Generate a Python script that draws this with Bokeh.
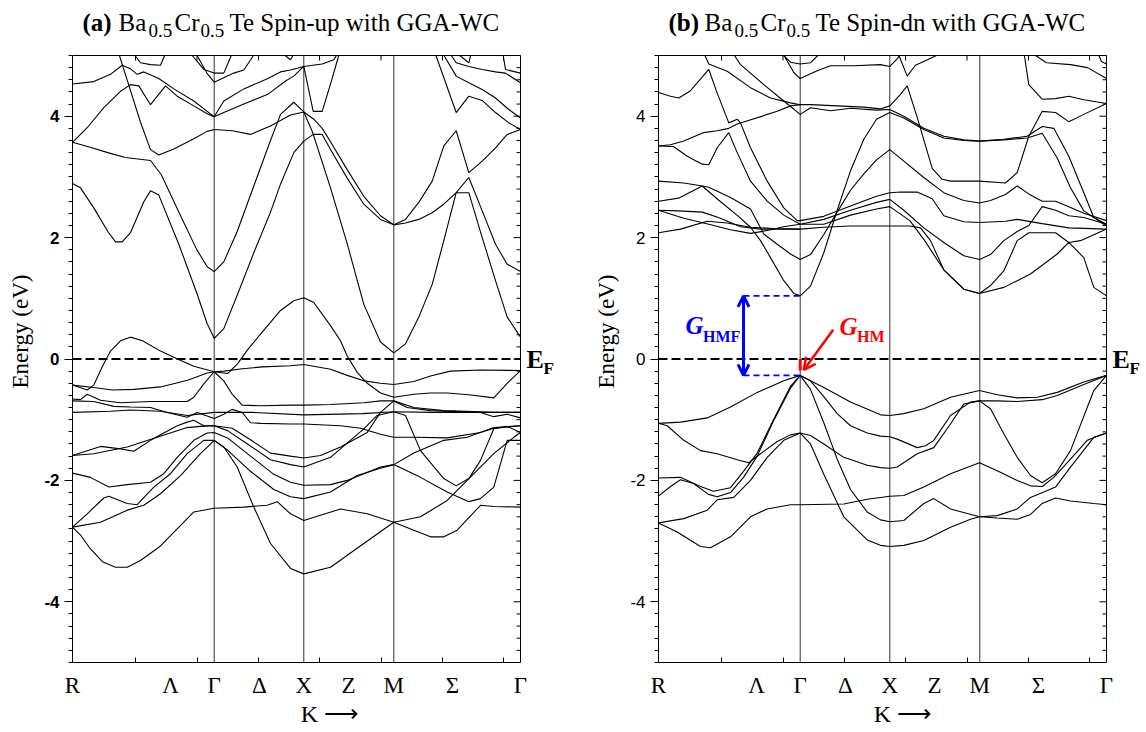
import numpy as np
from bokeh.plotting import figure
from bokeh.layouts import row
from bokeh.models import (Range1d, FixedTicker, Label, Arrow, OpenHead, LinearAxis)
from bokeh.embed import file_html
from bokeh.resources import INLINE

# ---------------- k-path (path length units) ----------------
K_GAMMA, K_X, K_M, K_END = 1.417, 2.313, 3.213, 4.48
SYM_K = [0.0, 0.98, 1.417, 1.87, 2.313, 2.76, 3.213, 3.80, 4.48]
SYM_LABELS = ["R", "Λ", "Γ", "Δ", "X", "Z", "M", "Σ", "Γ"]
VLINES_K = [K_GAMMA, K_X, K_M]
MINOR_K = [0.63, 1.245, 1.86, 2.47, 3.085, 3.70, 4.31]
Y_MAJOR = [-4, -2, 0, 2, 4]
Y_MINOR = [round(v, 1) for v in np.arange(-5.0, 5.01, 0.2)]
E_MIN, E_MAX = -5.0, 5.0

# ---------------- (a) spin-up bands: (k, E[eV]) ----------------
UP01 = ([0.45,0.58,0.68,0.78,0.863,1.013,1.213,1.347,1.417, 1.6,1.78,1.98,2.18,2.313, 2.413,2.497,2.58,2.747,2.913,3.08,3.213, 3.33,3.463,3.597,3.713,3.837,3.963,4.097,4.23,4.347,4.48],
        [5.1,4.42,3.90,3.45,3.36,3.46,3.63,3.75,3.78, 3.76,3.70,3.84,4.02,4.07, 3.95,3.80,3.58,3.12,2.68,2.36,2.21, 2.24,2.30,2.41,2.55,2.74,2.99,2.44,1.89,1.56,1.44])
UP02 = ([0,0.177,0.353,0.53,0.78,0.887,1.063,1.24,1.347,1.417, 1.513,1.647,1.813,1.98,2.08,2.213,2.313, 2.40,2.58,2.747,2.913,3.08,3.213, 3.33,3.463,3.597,3.713,3.837,3.963,4.097,4.23,4.347,4.48],
        [3.57,3.49,3.40,3.32,3.27,3.04,2.42,1.81,1.52,1.44, 1.60,2.10,2.85,3.60,4.03,4.23,4.07, 3.74,2.82,1.90,0.90,0.28,0.10, 0.25,0.69,1.23,1.95,2.74,2.74,2.00,1.29,0.69,0.36])
UP03 = ([0,0.08,0.213,0.353,0.43,0.497,0.58,0.713,0.78,0.863,1.063,1.24,1.347,1.417, 1.513,1.647,1.813,1.98,2.08,2.213,2.313,2.407,2.497, 2.58,2.747,2.913,3.08,3.213, 3.33,3.463,3.597,3.713,3.837,3.963,4.097,4.23,4.347,4.48],
        [2.89,2.82,2.49,2.10,1.93,1.93,2.08,2.59,2.77,2.70,1.89,1.10,0.58,0.34, 0.50,1.05,1.75,2.42,2.88,3.40,3.59,3.70,3.70, 3.45,2.98,2.55,2.30,2.21, 2.30,2.58,2.93,3.51,3.76,3.07,3.26,3.48,3.70,3.78])
UP04 = ([0,0.147,0.313,0.48,0.58,0.663,0.78,0.93,1.047,1.213,1.347,1.417, 1.513,1.713,1.953,2.13,2.213,2.313, 2.407,2.497,2.58,2.68],
        [3.57,3.81,4.14,4.41,4.52,4.50,4.19,4.50,4.33,4.17,4.04,3.99, 4.06,4.20,4.36,4.58,4.66,4.82, 4.08,4.08,4.53,5.1])
UP05 = ([0,0.213,0.38,0.497,0.58,0.647,0.713,0.863,1.013,1.213,1.347,1.417, 1.513,1.713,1.953,2.08,2.18,2.313, 2.497,2.613,2.68],
        [4.53,4.57,4.69,4.84,4.78,4.69,4.73,4.62,4.45,4.25,4.08,3.99, 4.25,4.45,4.62,4.73,4.76,4.82, 4.86,4.93,5.1])
UP06 = ([1.147,1.313,1.417,1.513,1.613], [5.1,4.77,4.71,4.71,5.1])
UP07 = ([1.213,1.347,1.417,1.613,1.713,1.85], [5.1,4.70,4.56,4.71,4.76,5.1])
UP08 = ([0.58,0.68,0.78,0.88,0.947], [5.1,4.88,4.85,4.84,5.1])
UP09 = ([2.05,2.18,2.24], [5.1,4.93,5.1])
UP10 = ([3.613,3.837,3.963,4.097,4.23,4.363,4.48], [5.1,4.06,4.33,4.26,4.06,3.89,3.78])
UP11 = ([3.68,3.837,3.963,4.097,4.23,4.363,4.48], [5.1,4.66,4.55,4.44,4.30,4.11,3.97])
UP12 = ([3.747,3.837,3.963,4.097,4.23,4.33,4.48], [5.1,4.88,4.82,4.77,4.73,4.71,4.55])
UP13 = ([3.797,3.963,3.997], [5.1,4.88,5.1])
UP14 = ([4.297,4.33,4.48], [5.1,4.77,4.71])
UP15 = ([0,0.147,0.213,0.30,0.38,0.48,0.58,0.70,0.88,1.05,1.213,1.417,1.55,1.65,1.75,1.88,2.08,2.213,2.313,2.413,2.58,2.68,2.747,2.847,2.947,3.08,3.213,3.413,3.58,3.747,3.963,4.213,4.347,4.48],
        [-0.43,-0.51,-0.43,-0.12,0.13,0.30,0.36,0.30,0.13,0.0,-0.12,-0.21,-0.24,-0.08,0.15,0.41,0.80,0.96,1.01,0.93,0.55,0.30,0.05,-0.22,-0.40,-0.56,-0.63,-0.58,-0.56,-0.56,-0.59,-0.64,-0.40,-0.19])
UP16 = ([0,0.213,0.40,0.613,0.88,1.15,1.347,1.417,1.513,1.7,1.9,2.18,2.313,2.58,2.747,2.913,3.08,3.213,3.413,3.58,3.78,4.08,4.48],
        [-0.43,-0.47,-0.51,-0.50,-0.46,-0.35,-0.23,-0.21,-0.20,-0.16,-0.13,-0.11,-0.09,-0.17,-0.27,-0.36,-0.40,-0.42,-0.37,-0.28,-0.20,-0.18,-0.19])
UP17 = ([0,0.08,0.147,0.28,0.48,0.78,1.047,1.147,1.213,1.313,1.417,1.513,1.597,1.697,1.88,2.18,2.313,2.58,2.913,3.08,3.213,3.413,3.713,4.213,4.48],
        [-0.66,-0.67,-0.58,-0.68,-0.72,-0.70,-0.70,-0.70,-0.63,-0.41,-0.21,-0.36,-0.58,-0.76,-0.77,-0.76,-0.76,-0.75,-0.72,-0.69,-0.69,-0.80,-0.85,-0.88,-0.88])
UP18 = ([0,0.213,0.413,0.58,0.78,0.947,1.147,1.247,1.417,1.513,1.597,1.697,1.78,1.88,2.18,2.313,2.68,2.88,3.08,3.213,3.413,3.747,4.08,4.213,4.347,4.48],
        [-0.69,-0.70,-0.78,-0.79,-0.80,-0.88,-0.96,-0.88,-0.98,-0.91,-0.83,-0.88,-1.05,-1.06,-1.07,-1.07,-1.10,-1.14,-1.24,-1.29,-1.29,-1.30,-1.21,-1.14,-1.12,-1.10])
UP19 = ([0,0.38,0.58,0.88,1.147,1.417,1.8,2.313,2.9,3.213,3.6,4.48],
        [-0.88,-0.86,-0.84,-0.86,-0.93,-0.88,-0.88,-0.92,-0.90,-0.87,-0.88,-0.88])
UP20 = ([0,0.28,0.48,0.613,0.78,1.047,1.147,1.213,1.313,1.417,1.597,1.78,1.98,2.18,2.313,2.48,2.68,2.947,3.08,3.213,3.347,3.58,4.08,4.213,4.347,4.48],
        [-1.59,-1.44,-1.48,-1.52,-1.34,-1.10,-1.04,-1.01,-1.10,-1.10,-1.14,-1.33,-1.55,-1.60,-1.63,-1.59,-1.45,-1.21,-0.88,-0.69,-0.80,-0.85,-0.88,-0.95,-0.91,-0.97])
UP21 = ([0,0.213,0.547,0.847,1.147,1.28,1.417,1.55,1.75,1.98,2.18,2.313,2.58,2.913,3.047,3.213,3.33,3.48,3.713,3.837,3.963,4.08,4.213,4.347,4.48],
        [-1.59,-1.56,-1.45,-1.29,-1.13,-1.11,-1.10,-1.18,-1.40,-1.66,-1.74,-1.78,-1.62,-1.15,-0.93,-0.87,-0.93,-1.51,-1.97,-2.09,-1.97,-1.67,-1.15,-1.11,-1.21])
UP22 = ([0,0.18,0.363,0.547,0.78,0.913,1.047,1.213,1.347,1.417,1.55,1.78,2.013,2.18,2.313,2.58,2.747,2.913,3.08,3.213,3.48,3.747,3.963,4.08,4.213,4.347,4.48],
        [-1.88,-1.95,-2.11,-2.07,-2.03,-1.89,-1.62,-1.34,-1.22,-1.21,-1.30,-1.60,-1.90,-2.03,-2.08,-2.07,-2.00,-1.89,-1.78,-1.74,-1.95,-2.19,-2.35,-2.30,-2.11,-1.34,-1.34])
UP23 = ([0,0.147,0.313,0.363,0.547,0.647,0.813,0.98,1.147,1.313,1.417,1.55,1.78,2.013,2.18,2.313,2.58,2.847,3.08,3.213,3.413,3.713,3.947,4.213,4.48],
        [-2.77,-2.55,-2.29,-2.26,-2.38,-2.40,-2.11,-1.89,-1.56,-1.34,-1.34,-1.50,-1.85,-2.15,-2.27,-2.30,-2.19,-1.92,-1.80,-1.74,-1.55,-1.34,-1.29,-1.13,-1.10])
UP24 = ([0,0.28,0.547,0.713,0.88,1.08,1.28,1.417,1.513,1.647,1.813,1.98,2.18,2.313,2.58,2.913,3.213,3.48,3.747,3.947,4.213,4.413,4.48],
        [-2.77,-2.69,-2.49,-2.41,-2.22,-1.92,-1.56,-1.34,-1.45,-1.78,-2.44,-3.04,-3.45,-3.54,-3.43,-3.04,-2.69,-2.60,-2.33,-2.00,-1.56,-1.29,-1.21])
UP25 = ([0,0.08,0.18,0.30,0.43,0.547,0.68,0.88,1.047,1.213,1.417,1.713,1.947,2.047,2.18,2.313,2.68,2.947,3.213,3.413,3.58,3.713,3.847,4.08,4.213,4.48],
        [-2.77,-2.90,-3.13,-3.34,-3.43,-3.43,-3.32,-3.08,-2.80,-2.52,-2.46,-2.44,-2.41,-2.35,-2.55,-2.66,-2.47,-2.55,-2.69,-2.82,-2.93,-2.93,-2.82,-2.41,-2.43,-2.44])

# ---------------- (b) spin-down bands: (k, E[eV]) ----------------
DN01 = ([0,0.12,0.253,0.453,0.587,0.703,0.787,1.187,1.32,1.417, 1.52,1.787,2.053,2.22,2.313, 2.42,2.487,2.587,2.737,2.837,2.92,3.21,3.47,3.587,3.703,3.837,3.97,4.103,4.253,4.48],
        [3.51,3.53,3.59,3.73,3.76,3.80,3.87,4.08,4.17,4.19, 4.19,4.17,4.15,4.12,4.17, 4.36,4.50,3.98,3.14,2.96,2.93,2.93,2.90,3.07,3.67,4.08,4.06,3.91,4.03,4.21])
DN02 = ([0,0.15,0.287,0.437,0.503,0.587,0.703,0.787,0.92,1.087,1.253,1.417, 1.653,1.92,2.18,2.313, 2.453,2.653,2.853,3.053,3.21, 3.32,3.453,3.587,3.703,3.837,3.97,4.103,4.253,4.48],
        [3.51,3.50,3.34,3.21,3.20,3.48,3.73,3.40,2.93,2.60,2.37,2.22, 2.30,2.45,2.58,2.63, 2.45,2.16,1.92,1.70,1.64, 1.72,1.95,2.10,2.20,2.51,2.45,2.36,2.33,2.22])
DN03 = ([0,0.12,0.203,0.32,0.503,0.587,0.703,0.787,0.82,0.92,1.087,1.253,1.387,1.417, 1.653,1.92,2.18,2.313, 2.42,2.587,2.737,2.853,3.053,3.21, 3.47,3.587,3.837,4.103,4.48],
        [4.39,4.33,4.30,4.42,4.77,4.38,3.89,3.95,3.89,3.48,2.93,2.49,2.28,2.28, 2.35,2.52,2.68,2.74, 2.75,2.75,2.64,2.36,2.26,2.25, 2.27,2.30,2.23,2.16,2.14])
DN04 = ([0,0.253,0.437,0.6,0.8,0.92,1.02,1.12,1.253,1.353,1.417, 1.52,1.653,1.787,1.92,2.053,2.18,2.313, 2.453,2.653,2.853,3.053,3.21, 3.453,3.687,3.837,3.953,4.103,4.253,4.353,4.48],
        [2.93,2.90,2.85,2.62,2.35,2.17,1.95,1.67,1.29,1.08,1.04, 1.20,1.75,2.45,3.10,3.62,3.95,4.06, 3.97,3.78,3.64,3.60,3.59, 3.62,3.67,3.83,3.80,3.34,2.74,2.33,2.19])
DN05 = ([0,0.2,0.437,0.503,0.72,0.92,1.053,1.187,1.32,1.417, 1.52,1.653,1.787,1.92,2.053,2.18,2.313, 2.453,2.653,2.853,3.053,3.21, 3.32,3.47,3.587,3.703,3.837,3.97,4.103,4.253,4.48],
        [2.60,2.65,2.85,2.83,2.66,2.47,2.06,1.89,1.73,1.64, 1.72,2.05,2.42,2.78,3.05,3.28,3.45, 3.26,2.99,2.74,2.61,2.57, 2.61,2.71,2.85,2.72,2.60,2.60,2.51,2.40,2.28])
DN06 = ([0,0.253,0.503,0.72,0.92,1.1,1.25,1.417, 1.653,1.92,2.18,2.313, 2.513,2.653,2.853,3.053,3.21, 3.32,3.453,3.587,3.703,3.97,4.103,4.22,4.48],
        [2.45,2.32,2.22,2.13,2.07,2.12,2.18,2.22, 2.22,2.37,2.47,2.51, 2.28,1.97,1.47,1.15,1.08, 1.21,1.45,1.95,2.08,2.08,1.92,1.95,2.14])
DN07 = ([0,0.2,0.437,0.6,0.82,1.02,1.25,1.417, 1.653,1.92,2.313, 2.513,2.62,2.72,2.853,3.053,3.21, 3.453,3.72,3.987,4.103,4.253,4.353,4.48],
        [2.45,2.44,2.42,2.33,2.18,2.14,2.14,2.14, 2.17,2.19,2.19, 2.19,2.16,1.95,1.47,1.15,1.08, 1.18,1.40,1.73,1.92,1.67,1.18,1.04])
DN08 = ([0,0.22,0.487,0.687,0.92,1.15,1.417], [2.08,2.14,2.27,2.24,2.17,2.15,2.14])
DN09 = ([0.437,0.503,0.687,0.92,1.12,1.32,1.417], [5.1,4.86,4.74,4.47,4.30,4.22,4.19])
DN10 = ([0.72,0.82,1.053,1.253,1.417, 1.52,1.72,1.92,2.18,2.313, 2.453,2.653,2.853,3.053,3.21, 3.453,3.687,3.837,3.987,4.12,4.253,4.353,4.48],
        [5.1,4.85,4.52,4.25,4.03, 4.14,4.09,4.13,4.10,4.11, 4.0,3.80,3.67,3.61,3.59, 3.61,3.64,3.72,3.31,2.82,2.44,2.33,2.22])
DN11 = ([1.187,1.32,1.417,1.52,1.653], [5.1,4.89,4.86,4.88,5.1])
DN12 = ([1.22,1.353,1.417,1.587,1.72,1.953,2.22,2.313,2.39,2.45], [5.1,4.72,4.62,4.75,4.83,4.83,4.85,4.82,4.95,5.1])
DN13 = ([2.38,2.487,2.57,2.78,2.85], [5.1,4.66,4.84,5.0,5.1])
DN14 = ([3.65,3.703,3.837,3.97,4.103,4.253,4.48], [5.1,4.52,4.28,4.29,4.33,4.27,4.21])
DN15 = ([3.68,3.88,4.12,4.29,4.48], [5.1,4.88,4.85,4.80,4.62])
DN16 = ([4.38,4.43,4.48], [5.1,4.90,4.86])
DN17 = ([0,0.22,0.487,0.72,0.987,1.253,1.417,1.653,1.92,2.22,2.313,2.453,2.653,2.92,3.21,3.387,3.587,3.787,3.987,4.253,4.48],
        [-1.06,-1.04,-0.97,-0.79,-0.55,-0.36,-0.27,-0.47,-0.71,-0.92,-0.93,-0.90,-0.82,-0.63,-0.52,-0.59,-0.64,-0.63,-0.55,-0.38,-0.27])
DN18 = ([0,0.087,0.253,0.42,0.587,0.787,0.903,1.02,1.187,1.32,1.417, 1.52,1.653,1.853,2.087,2.22,2.313, 2.387,2.587,2.753,2.92,3.053,3.21, 3.387,3.587,3.837,3.987,4.253,4.48],
        [-1.06,-1.10,-1.34,-1.51,-1.56,-1.66,-1.71,-1.56,-1.36,-1.25,-1.22, -1.26,-1.40,-1.62,-1.75,-1.79,-1.80, -1.78,-1.56,-1.46,-1.07,-0.74,-0.69, -0.69,-0.70,-0.67,-0.60,-0.42,-0.27])
DN19 = ([0,0.22,0.42,0.55,0.72,0.85,0.987,1.15,1.32,1.417, 1.52,1.653,1.787,1.92,2.087,2.22,2.313, 2.387,2.587,2.67,2.753,2.92,3.12,3.21, 3.32,3.453,3.587,3.72,3.837,3.97,4.12,4.353,4.48],
        [-1.96,-1.95,-2.10,-2.18,-2.12,-1.85,-1.55,-1.00,-0.45,-0.27, -0.36,-0.62,-0.90,-1.10,-1.22,-1.27,-1.28, -1.32,-1.46,-1.43,-1.34,-0.93,-0.71,-0.69, -0.82,-1.23,-1.62,-1.92,-2.04,-1.89,-1.51,-0.52,-0.27])
DN20 = ([0,0.12,0.22,0.35,0.50,0.587,0.72,0.85,0.987,1.15,1.32,1.417, 1.52,1.653,1.787,1.92,2.087,2.22,2.313, 2.453,2.653,2.753,2.92,3.21, 3.387,3.587,3.72,3.837,3.97,4.12,4.353,4.48],
        [-2.26,-2.10,-1.99,-2.05,-2.23,-2.27,-2.20,-1.95,-1.60,-1.02,-0.48,-0.27, -0.50,-1.05,-1.65,-2.15,-2.52,-2.65,-2.68, -2.66,-2.38,-2.30,-2.47,-2.60, -2.62,-2.64,-2.56,-2.38,-2.29,-2.34,-2.38,-2.40])
DN21 = ([0,0.253,0.487,0.587,0.753,0.92,1.087,1.253,1.417, 1.52,1.653,1.853,2.087,2.22,2.313, 2.453,2.653,2.92,3.12,3.21, 3.387,3.587,3.72,3.853,3.97,4.12,4.353,4.48],
        [-2.70,-2.63,-2.49,-2.32,-2.28,-2.00,-1.62,-1.34,-1.22, -1.40,-1.90,-2.60,-2.98,-3.07,-3.09, -3.07,-2.99,-2.77,-2.64,-2.60, -2.58,-2.47,-2.28,-2.19,-2.11,-1.78,-1.29,-1.22])
DN22 = ([0,0.187,0.42,0.52,0.72,0.92,1.087,1.32,1.417, 1.853,2.087,2.313, 2.453,2.653,2.92,3.21, 3.387,3.587,3.72,3.837,3.953,4.12,4.287,4.48],
        [-2.70,-2.85,-3.09,-3.11,-2.93,-2.60,-2.47,-2.40,-2.40, -2.39,-2.31,-2.26, -2.25,-2.11,-1.89,-1.71, -1.84,-2.00,-2.09,-2.10,-1.95,-1.65,-1.34,-1.22])

UP_BANDS = [UP01, UP02, UP03, UP04, UP05, UP06, UP07, UP08, UP09, UP10, UP11, UP12, UP13,
            UP14, UP15, UP16, UP17, UP18, UP19, UP20, UP21, UP22, UP23, UP24, UP25]
DN_BANDS = [DN01, DN02, DN03, DN04, DN05, DN06, DN07, DN08, DN09, DN10, DN11, DN12, DN13,
            DN14, DN15, DN16, DN17, DN18, DN19, DN20, DN21, DN22]

# gap annotation values (spin-down)
DN_CBM = 1.04
DN_VBM = -0.27
HMF_ARROW_K = 0.85

SERIF = "Liberation Serif"
SANS = "Liberation Sans"
PX_PER_K = 100.0
PX_PER_EV = 60.7


def clip_top(k, e, top=E_MAX):
    """Cut a band polyline at the top of the energy window (NaN gaps)."""
    xs, ys = [], []
    for i in range(len(k)):
        inside = e[i] <= top
        if i > 0:
            prev_inside = e[i - 1] <= top
            if inside != prev_inside:
                t = (top - e[i - 1]) / (e[i] - e[i - 1])
                xi = k[i - 1] + t * (k[i] - k[i - 1])
                if prev_inside:
                    xs += [xi, np.nan]
                    ys += [top, np.nan]
                else:
                    xs.append(xi)
                    ys.append(top)
        if inside:
            xs.append(k[i])
            ys.append(e[i])
    return np.array(xs, dtype=float), np.array(ys, dtype=float)


def make_panel(bands, tag, spin_text, bold_ticks, canvas_w):
    left_px, top_px, frame_h = 72, 0, 662
    frame_w = canvas_w - left_px
    x_hi = frame_w / PX_PER_K
    y_hi = E_MIN + frame_h / PX_PER_EV
    p = figure(frame_width=frame_w, frame_height=frame_h,
               min_border_left=left_px, min_border_right=0,
               min_border_top=top_px, min_border_bottom=66,
               x_range=Range1d(0, x_hi), y_range=Range1d(E_MIN, y_hi),
               output_backend="svg", toolbar_location=None, tools="")
    p.title_location = None
    p.background_fill_color = "white"
    p.border_fill_color = "white"
    p.outline_line_color = None
    p.xgrid.visible = False
    p.ygrid.visible = False

    # x axis (bottom) – symmetry labels, inward minor ticks
    xa = p.xaxis[0]
    xa.bounds = (0, K_END)
    xa.ticker = FixedTicker(ticks=SYM_K, minor_ticks=MINOR_K)
    xa.major_label_overrides = {k: lab for k, lab in zip(SYM_K, SYM_LABELS)}
    xa.major_tick_in = 0
    xa.major_tick_out = 0
    xa.minor_tick_in = 5
    xa.minor_tick_out = 0
    xa.major_label_standoff = 10
    xa.major_label_text_font = SERIF
    xa.major_label_text_font_size = "23px"
    xa.major_label_text_color = "black"
    xa.axis_line_color = "black"

    # second bottom axis that only carries the "K ->" label
    kax = LinearAxis(ticker=FixedTicker(ticks=[], minor_ticks=[]), bounds=(0.68, K_END),
                     axis_line_color=None, major_tick_line_color=None,
                     minor_tick_line_color=None, axis_label="K \u27f6",
                     axis_label_standoff=0, axis_label_text_font=SERIF,
                     axis_label_text_font_size="24px", axis_label_text_font_style="normal",
                     axis_label_text_color="black")
    p.add_layout(kax, "below")

    # y axis (left)
    ya = p.yaxis[0]
    ya.bounds = (E_MIN, E_MAX)
    ya.ticker = FixedTicker(ticks=Y_MAJOR, minor_ticks=Y_MINOR)
    ya.major_label_overrides = {v: str(v) for v in Y_MAJOR}
    ya.major_tick_out = 8
    ya.major_tick_in = 0
    ya.minor_tick_out = 4
    ya.minor_tick_in = 0
    ya.major_label_text_font = SANS
    ya.major_label_text_font_size = "17px"
    ya.major_label_text_font_style = "bold" if bold_ticks else "normal"
    ya.major_label_text_color = "black"
    ya.axis_label = "Energy (eV)"
    ya.axis_label_text_font = SERIF
    ya.axis_label_text_font_size = "23px"
    ya.axis_label_text_font_style = "normal"
    ya.axis_label_text_color = "black"
    ya.axis_label_standoff = 8
    ya.axis_line_color = "black"

    # frame: top and right borders with inward ticks
    p.segment(x0=[0, K_END], y0=[E_MAX, E_MIN], x1=[K_END, K_END], y1=[E_MAX, E_MAX],
              line_color="black", line_width=1)
    tick_e = 5 / PX_PER_EV
    p.segment(x0=MINOR_K, y0=[E_MAX] * len(MINOR_K), x1=MINOR_K,
              y1=[E_MAX - tick_e] * len(MINOR_K), line_color="black", line_width=1)
    rt_len = [(7 if v in Y_MAJOR else 4) / PX_PER_K for v in Y_MINOR]
    p.segment(x0=[K_END - d for d in rt_len], y0=Y_MINOR, x1=[K_END] * len(Y_MINOR),
              y1=Y_MINOR, line_color="black", line_width=1)

    # high-symmetry vertical lines and Fermi level
    p.segment(x0=VLINES_K, y0=[E_MIN] * 3, x1=VLINES_K, y1=[E_MAX] * 3,
              line_color="#333333", line_width=1)
    p.segment(x0=[0], y0=[0], x1=[K_END], y1=[0], line_color="black",
              line_dash="9 4", line_width=1.8)

    # bands
    clipped = [clip_top(b[0], b[1]) for b in bands]
    p.multi_line(xs=[c[0] for c in clipped], ys=[c[1] for c in clipped],
                 line_color="black", line_width=1.1)

    # title pieces (screen units relative to frame bottom-left)
    ty, sy = frame_h - 22, frame_h - 30
    pieces = [(tag, 10, ty, "25px", "bold"),
              ("Ba", 46, ty, "25px", "normal"),
              ("0.5", 76, sy, "19px", "normal"),
              ("Cr", 102, ty, "25px", "normal"),
              ("0.5", 128, sy, "19px", "normal"),
              ("Te " + spin_text + " with GGA-WC", 157, ty, "25px", "normal")]
    for txt, x, y, fs, st in pieces:
        p.add_layout(Label(x=x, y=y, x_units="screen", y_units="screen", text=txt,
                           text_font=SERIF, text_font_size=fs, text_font_style=st,
                           text_baseline="middle", text_align="left", text_color="black"))

    # E_F label
    p.add_layout(Label(x=K_END, y=0, x_offset=6, text="E", text_font=SERIF,
                       text_font_size="26px", text_font_style="bold",
                       text_baseline="middle", text_color="black"))
    p.add_layout(Label(x=K_END, y=0, x_offset=23, y_offset=-9, text="F", text_font=SERIF,
                       text_font_size="17px", text_font_style="bold",
                       text_baseline="middle", text_color="black"))
    return p


p1 = make_panel(UP_BANDS, "(a)", "Spin-up", True, 586)
p2 = make_panel(DN_BANDS, "(b)", "Spin-dn", False, 560)

# ---- gap annotations on spin-down panel ----
for ev in (DN_CBM, DN_VBM):
    p2.line([HMF_ARROW_K, K_GAMMA], [ev, ev], line_color="blue", line_dash="6 4", line_width=1.6)
p2.add_layout(Arrow(start=OpenHead(size=11, line_color="blue", line_width=3),
                    end=OpenHead(size=11, line_color="blue", line_width=3),
                    x_start=HMF_ARROW_K, y_start=DN_VBM, x_end=HMF_ARROW_K, y_end=DN_CBM,
                    line_color="blue", line_width=3))
p2.add_layout(Label(x=0.27, y=0.55, text="G", text_font=SERIF, text_font_size="25px",
                    text_font_style="bold italic", text_color="blue", text_baseline="middle"))
p2.add_layout(Label(x=0.445, y=0.37, text="HMF", text_font=SERIF, text_font_size="16px",
                    text_font_style="bold", text_color="blue", text_baseline="middle"))
p2.line([K_GAMMA, K_GAMMA], [0, -0.19], line_color="red", line_width=3)
p2.add_layout(Arrow(end=OpenHead(size=12, line_color="red", line_width=2.5),
                    x_start=1.747, y_start=0.48, x_end=1.453, y_end=-0.18,
                    line_color="red", line_width=2.5))
p2.add_layout(Label(x=1.81, y=0.53, text="G", text_font=SERIF, text_font_size="25px",
                    text_font_style="bold italic", text_color="red", text_baseline="middle"))
p2.add_layout(Label(x=1.985, y=0.37, text="HM", text_font=SERIF, text_font_size="16px",
                    text_font_style="bold", text_color="red", text_baseline="middle"))

layout = row(p1, p2)
open("out.html", "w").write(file_html(layout, INLINE))
